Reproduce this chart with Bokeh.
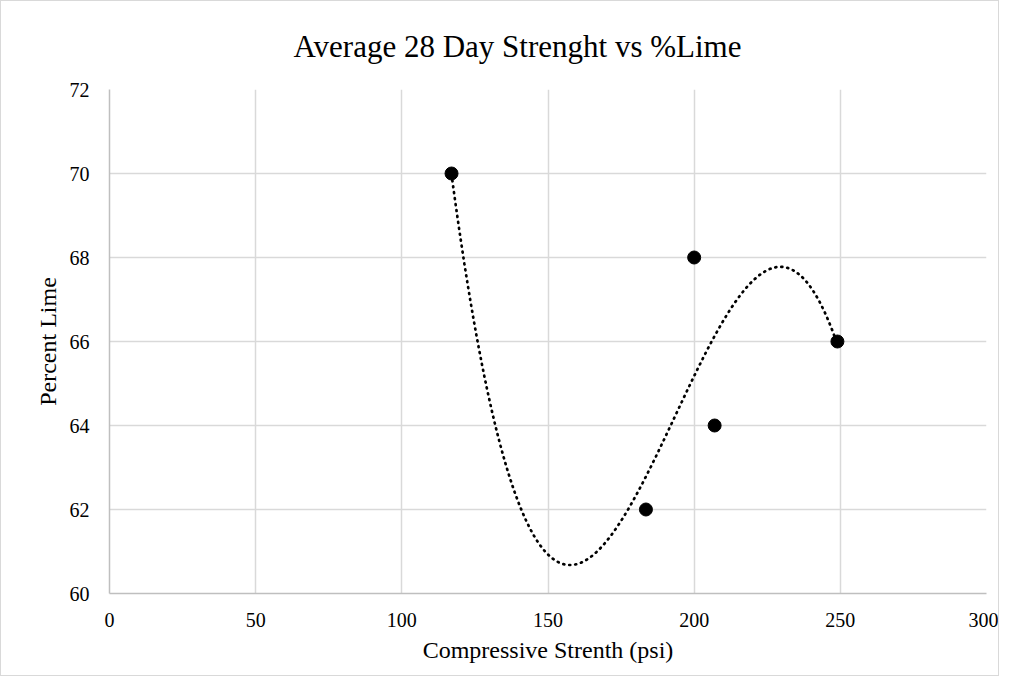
import numpy as np
from bokeh.plotting import figure
from bokeh.models import FixedTicker, Range1d
from bokeh.embed import file_html
from bokeh.resources import INLINE

# Data
strength_psi = [117, 183.5, 200, 207, 249]
percent_lime = [70, 62, 68, 64, 66]
x_ticks = [0, 50, 100, 150, 200, 250, 300]
y_ticks = [60, 62, 64, 66, 68, 70, 72]

title_text = "Average 28 Day Strenght vs %Lime"
x_label = "Compressive Strenth (psi)"
y_label = "Percent Lime"

FONT = "Liberation Serif"
GRID = "#D9D9D9"
TEXT = "#000000"

p = figure(
    width=999, height=676,
    x_range=Range1d(0, 300), y_range=Range1d(60, 72),
    output_backend="svg", toolbar_location=None,
    min_border_left=108, min_border_right=14,
    min_border_top=88, min_border_bottom=84,
)

p.title.text = title_text
p.title.text_font = FONT
p.title.text_font_size = "31px"
p.title.text_font_style = "normal"
p.title.text_color = TEXT
p.title.align = "left"
p.title.offset = 184
p.title.standoff = 51

p.outline_line_color = None
p.background_fill_color = "white"
p.border_fill_color = "white"

for ax, lbl in ((p.xaxis[0], x_label), (p.yaxis[0], y_label)):
    ax.axis_label = lbl
    ax.axis_label_text_font = FONT
    ax.axis_label_text_font_size = "24px"
    ax.axis_label_text_font_style = "normal"
    ax.axis_label_text_color = TEXT
    ax.major_label_text_font = FONT
    ax.major_label_text_font_size = "20px"
    ax.major_label_text_color = TEXT
    ax.major_tick_line_color = None
    ax.minor_tick_line_color = None
    ax.axis_line_color = "#BFBFBF"
    ax.axis_line_width = 1.5

p.xaxis.ticker = FixedTicker(ticks=x_ticks)
p.yaxis.ticker = FixedTicker(ticks=y_ticks)
p.xaxis.major_label_standoff = 13
p.yaxis.major_label_standoff = 14
p.xaxis.axis_label_standoff = 7
p.yaxis.axis_label_standoff = 6

p.xgrid.grid_line_color = GRID
p.ygrid.grid_line_color = GRID
p.xgrid.grid_line_width = 1.5
p.ygrid.grid_line_width = 1.5

# Polynomial (order 3) trendline, least-squares fit of the data, as in the original
coef = np.polyfit(strength_psi, percent_lime, 3)
xs = np.linspace(min(strength_psi), max(strength_psi), 300)
ys = np.polyval(coef, xs)
p.line(xs, ys, line_color="black", line_width=2.7, line_dash="1 5", line_cap="round")

p.scatter(strength_psi, percent_lime, size=13, fill_color="black", line_color="black")

p.styles = {"border": "1px solid #D9D9D9"}

open("out.html", "w").write(file_html(p, INLINE))
